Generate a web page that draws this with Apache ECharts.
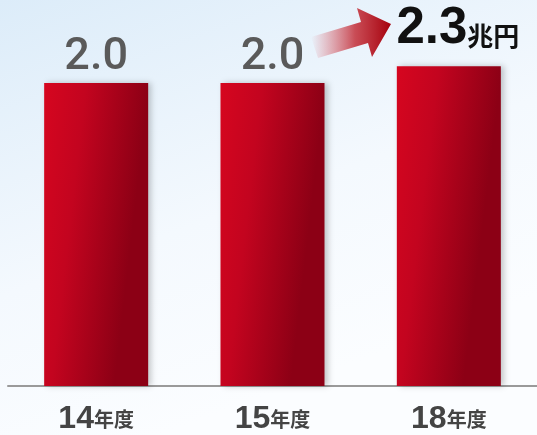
<!DOCTYPE html>
<html>
<head>
<meta charset="utf-8">
<script src="https://cdn.jsdelivr.net/npm/echarts@6/dist/echarts.min.js"></script>
<style>
  html, body { margin: 0; padding: 0; }
  #main { width: 537px; height: 435px; }
</style>
</head>
<body>
<div id="main"></div>
<script>
// 年度別 市場規模（兆円）
var years = ['14年度', '15年度', '18年度'];
var amounts = [2.0, 2.0, 2.3];
var unitText = '兆円';

var chart = echarts.init(document.getElementById('main'));

var barColor = new echarts.graphic.LinearGradient(0, 0, 1, 0.04, [
    {offset: 0, color: '#d6061f'},
    {offset: 0.4, color: '#c3041f'},
    {offset: 1, color: '#8c0015'}
]);

var seriesData = amounts.map(function(v, i) {
    var last = i === amounts.length - 1;
    return {
        value: v,
        label: last ? {
            formatter: '{big|' + v.toFixed(1) + '}{unit|' + unitText + '}',
            offset: [9, 0],
            distance: 12
        } : {
            formatter: '{n|' + v.toFixed(1) + '}',
            distance: 3
        }
    };
});

var option = {
    backgroundColor: new echarts.graphic.LinearGradient(0, 0, 0.3, 1, [
        {offset: 0, color: '#dcecf9'},
        {offset: 0.6, color: '#f4f9fe'},
        {offset: 1, color: '#fbfdff'}
    ]),
    animation: false,
    grid: {
        left: 8,
        right: -4,
        top: 55,
        bottom: 46
    },
    xAxis: {
        type: 'category',
        data: years,
        axisTick: {show: false},
        axisLine: {onZero: false, lineStyle: {color: '#9a9a9a', width: 2}},
        axisLabel: {
            margin: 17,
            formatter: function(v) {
                return '{a|' + v.replace('年度', '') + '}{b|年度}';
            },
            rich: {
                a: {fontFamily: 'Liberation Sans', fontWeight: 'bold', fontSize: 32, color: '#444444'},
                b: {fontFamily: 'Noto Sans CJK JP', fontWeight: 'bold', fontSize: 20, color: '#444444'}
            }
        }
    },
    yAxis: {
        type: 'value',
        show: false,
        min: -3.4,
        max: 2.5,
        startValue: -3.4,
        splitLine: {show: false}
    },
    series: [{
        type: 'bar',
        data: seriesData,
        barWidth: 104,
        itemStyle: {
            color: barColor,
            shadowColor: 'rgba(0,0,0,0.22)',
            shadowBlur: 6,
            shadowOffsetX: 3,
            shadowOffsetY: 0
        },
        label: {
            show: true,
            position: 'top',
            rich: {
                n: {fontFamily: 'Roboto', fontWeight: 500, fontSize: 45, color: '#5a5a5a'},
                big: {fontFamily: 'Liberation Sans', fontWeight: 'bold', fontSize: 51, color: '#111111'},
                unit: {fontFamily: 'Noto Sans CJK JP', fontWeight: 'bold', fontSize: 26, color: '#111111', verticalAlign: 'bottom', padding: [0, 0, 5, 0]}
            }
        }
    }],
    graphic: [{
        type: 'polygon',
        silent: true,
        shape: {
            points: [[318, 58], [311, 37], [361, 22], [357, 8], [391, 24], [372, 57], [368, 43]]
        },
        style: {
            fill: new echarts.graphic.LinearGradient(0, 0, 1, 0, [
                {offset: 0, color: 'rgba(215,60,70,0)'},
                {offset: 0.55, color: 'rgba(190,20,30,0.75)'},
                {offset: 1, color: '#a5000c'}
            ])
        }
    }]
};

chart.setOption(option);
</script>
</body>
</html>
